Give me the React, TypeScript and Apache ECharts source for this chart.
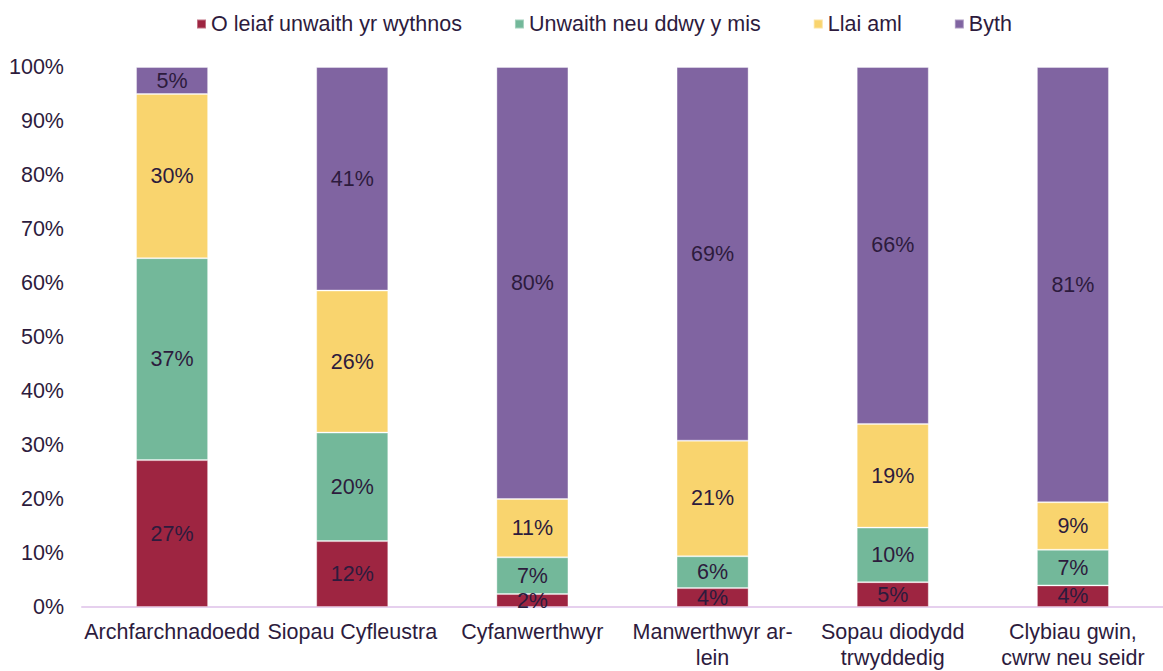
import React, { useEffect, useRef } from "react";
import * as echarts from "echarts";

const categories = [
  "Archfarchnadoedd",
  "Siopau Cyfleustra",
  "Cyfanwerthwyr",
  "Manwerthwyr ar-\nlein",
  "Sopau diodydd\ntrwyddedig",
  "Clybiau gwin,\ncwrw neu seidr",
];

const seriesNames = ["O leiaf unwaith yr wythnos", "Unwaith neu ddwy y mis", "Llai aml", "Byth"];

const weekly = [27.2, 12.2, 2.4, 3.5, 4.6, 4.0];
const monthly = [37.4, 20.1, 6.8, 5.9, 10.1, 6.6];
const lessOften = [30.4, 26.3, 10.8, 21.4, 19.2, 8.8];
const never = [5.0, 41.4, 80.0, 69.2, 66.1, 80.6];

const colors = ["#9e2541", "#73b89a", "#f9d46e", "#8064a1"];
const yTicks = { min: 0, max: 100, interval: 10 };

const FONT = "'Liberation Sans', Arial, sans-serif";
const TEXT = "#2d1b3d";
const FS = 21.5;

export default function App() {
  const ref = useRef<HTMLDivElement>(null);
  useEffect(() => {
    if (!ref.current) return;
    const chart = echarts.init(ref.current, undefined, { renderer: "svg" });
    const values = [weekly, monthly, lessOften, never];
    chart.setOption({
      animation: false,
      textStyle: { fontFamily: FONT },
      legend: {
        top: 8,
        left: 191,
        itemWidth: 9,
        itemHeight: 9,
        itemGap: 52,
        icon: "rect",
        textStyle: { fontSize: FS, color: TEXT, fontFamily: FONT },
        data: seriesNames,
      },
      grid: { left: 82, width: 1092, top: 67, bottom: 59, containLabel: false },
      xAxis: {
        type: "category",
        data: categories,
        axisLine: { lineStyle: { color: "#e6d0ee", width: 2 } },
        axisTick: { show: false },
        axisLabel: {
          interval: 0,
          fontSize: FS,
          lineHeight: 26,
          margin: 12,
          color: TEXT,
          fontFamily: FONT,
        },
      },
      yAxis: {
        type: "value",
        min: yTicks.min,
        max: yTicks.max,
        interval: yTicks.interval,
        axisLine: { show: false },
        axisTick: { show: false },
        splitLine: { show: false },
        axisLabel: {
          formatter: "{value}%",
          fontSize: FS,
          margin: 18,
          color: TEXT,
          fontFamily: FONT,
        },
      },
      series: seriesNames.map((name, i) => ({
        name,
        type: "bar",
        stack: "total",
        barWidth: "40%",
        data: values[i],
        itemStyle: {
          color: colors[i],
          borderColor: "rgba(255,255,255,0.35)",
          borderWidth: 1,
        },
        label: {
          show: true,
          position: "inside",
          fontSize: FS,
          color: TEXT,
          fontFamily: FONT,
          formatter: (p: any) => Math.round(p.value) + "%",
        },
      })),
    });
    return () => chart.dispose();
  }, []);
  return (
    <div
      ref={ref}
      style={{ position: "fixed", left: 0, top: 0, width: 1163, height: 671, background: "#fff" }}
    />
  );
}
